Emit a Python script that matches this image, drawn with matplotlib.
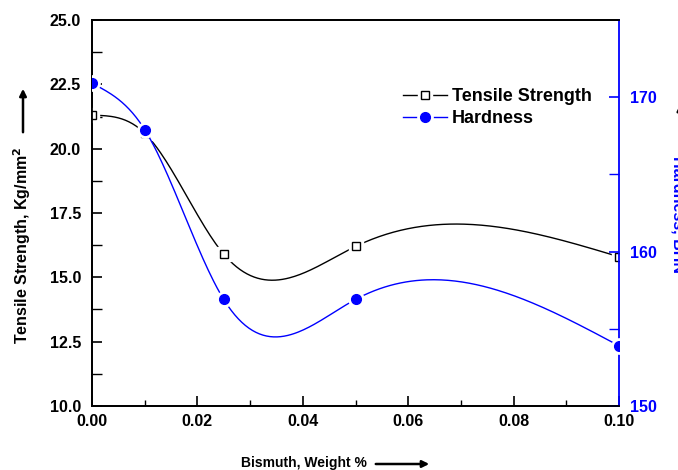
import numpy as np
import matplotlib
matplotlib.use("Agg")
import matplotlib.pyplot as plt
from matplotlib.lines import Line2D
from matplotlib.legend_handler import HandlerTuple

bismuth = [0.0, 0.01, 0.025, 0.05, 0.10]
tensile = [21.3, 20.6, 15.9, 16.2, 15.8]
hardness = [170.9, 167.9, 156.9, 156.9, 153.9]

plt.rcParams['font.family'] = ['Liberation Sans', 'DejaVu Sans']
plt.rcParams['font.weight'] = 'bold'


def natural_spline(x, y, n=300):
    x = np.asarray(x, float); y = np.asarray(y, float)
    k = len(x); h = np.diff(x)
    A = np.zeros((k, k)); b = np.zeros(k)
    A[0, 0] = 1; A[-1, -1] = 1
    for i in range(1, k - 1):
        A[i, i - 1] = h[i - 1]; A[i, i] = 2 * (h[i - 1] + h[i]); A[i, i + 1] = h[i]
        b[i] = 3 * ((y[i + 1] - y[i]) / h[i] - (y[i] - y[i - 1]) / h[i - 1])
    c = np.linalg.solve(A, b)
    xs = np.linspace(x[0], x[-1], n); ys = np.empty_like(xs)
    for j, xv in enumerate(xs):
        i = min(np.searchsorted(x, xv, side='right') - 1, k - 2)
        bi = (y[i + 1] - y[i]) / h[i] - h[i] * (2 * c[i] + c[i + 1]) / 3
        di = (c[i + 1] - c[i]) / (3 * h[i])
        t = xv - x[i]
        ys[j] = y[i] + bi * t + c[i] * t ** 2 + di * t ** 3
    return xs, ys


fig = plt.figure(figsize=(6.78, 4.70), dpi=100)
ax = fig.add_axes([92 / 678, 64 / 470, 527 / 678, 386 / 470])
ax2 = ax.twinx()

xs, ys = natural_spline(bismuth, tensile)
ax.plot(xs, ys, color='black', lw=1.0, zorder=2)
m1 = ax.plot(bismuth, tensile, ls='none', marker='s', ms=10, mfc='white', mec='white', zorder=3)
m2 = ax.plot(bismuth, tensile, ls='none', marker='s', ms=6, mfc='white', mec='black', mew=1.0, zorder=4)

xs2, ys2 = natural_spline(bismuth, hardness)
ax2.plot(xs2, ys2, color='blue', lw=1.0, zorder=2)
m3 = ax2.plot(bismuth, hardness, ls='none', marker='o', ms=11, mfc='white', mec='white', zorder=3)
m4 = ax2.plot(bismuth, hardness, ls='none', marker='o', ms=7, mfc='blue', mec='blue', zorder=4)
for art in m1 + m2 + m3 + m4:
    art.set_clip_on(True)

ax.set_xlim(0, 0.10)
ax.set_ylim(10, 25)
ax2.set_ylim(150, 175)

ax.set_xticks(np.arange(0, 0.1001, 0.02))
ax.set_xticks(np.arange(0.01, 0.1, 0.02), minor=True)
ax.set_yticks(np.arange(10, 25.01, 2.5))
ax.set_yticks(np.arange(11.25, 25, 2.5), minor=True)
ax2.set_yticks([150, 160, 170])
ax2.set_yticks([155, 165], minor=True)

ax.set_xticklabels(['0.00', '0.02', '0.04', '0.06', '0.08', '0.10'])
ax.set_yticklabels(['%.1f' % v for v in np.arange(10, 25.01, 2.5)])

ax.tick_params(axis='x', which='major', direction='in', length=7, width=1.2, labelsize=11.5, pad=6)
ax.tick_params(axis='y', which='major', direction='in', length=7, width=1.2, labelsize=11.5, pad=8)
ax.tick_params(axis='both', which='minor', direction='in', length=4, width=1.0)
ax.tick_params(axis='y', which='minor', length=7)
ax.tick_params(top=False, right=False)
ax2.tick_params(axis='y', which='major', direction='in', length=7, width=1.2, colors='blue', labelsize=11.5, pad=8)
ax2.tick_params(axis='y', which='minor', direction='in', length=7, width=1.0, colors='blue')

for lab in ax.get_xticklabels() + ax.get_yticklabels() + ax2.get_yticklabels():
    lab.set_fontweight('bold')

for s in ['left', 'bottom', 'top']:
    ax.spines[s].set_linewidth(1.3)
    ax2.spines[s].set_linewidth(1.3)
ax2.spines['right'].set_color('blue')
ax2.spines['right'].set_linewidth(1.3)
ax.spines['right'].set_visible(False)

# axis labels with arrows
fig.text(22 / 678, 1 - 245 / 470, 'Tensile Strength, Kg/mm$^\\mathbf{2}$', rotation=90,
         ha='center', va='center', fontsize=11.5, fontweight='bold')
fig.add_artist(matplotlib.patches.FancyArrowPatch((23 / 678, 1 - 135 / 470), (23 / 678, 1 - 86 / 470),
               transform=fig.transFigure, arrowstyle='-|>', mutation_scale=10, lw=1.8, color='black'))

fig.text(304 / 678, 1 - 463 / 470, 'Bismuth, Weight %', ha='center', va='center',
         fontsize=10, fontweight='bold')
fig.add_artist(matplotlib.patches.FancyArrowPatch((373 / 678, 1 - 464 / 470), (432 / 678, 1 - 464 / 470),
               transform=fig.transFigure, arrowstyle='-|>', mutation_scale=10, lw=1.8, color='black'))

fig.text(678 / 678, 1 - 215 / 470, 'Hardness, BHN', rotation=270, ha='center', va='center',
         fontsize=11.5, fontweight='bold', color='blue')
fig.add_artist(matplotlib.patches.FancyArrowPatch((681 / 678, 1 - 150 / 470), (681 / 678, 1 - 100 / 470),
               transform=fig.transFigure, arrowstyle='-|>', mutation_scale=12, lw=1.8, color='black'))

# legend
l1 = Line2D([], [], color='black', lw=1.0)
l1m = Line2D([], [], ls='none', marker='s', ms=10, mfc='white', mec='white')
l1k = Line2D([], [], ls='none', marker='s', ms=6, mfc='white', mec='black')
l2 = Line2D([], [], color='blue', lw=1.0)
l2m = Line2D([], [], ls='none', marker='o', ms=11, mfc='white', mec='white')
l2k = Line2D([], [], ls='none', marker='o', ms=7, mfc='blue', mec='blue')
ax2.legend([(l1, l1m, l1k), (l2, l2m, l2k)], ['Tensile Strength', 'Hardness'], loc='upper left',
           bbox_to_anchor=(0.56, 0.865), frameon=False, handlelength=2.4, handletextpad=0.3,
           labelspacing=0.28, prop={'weight': 'bold', 'size': 13},
           handler_map={tuple: HandlerTuple(ndivide=1)})

fig.savefig('out.png', dpi=100)
